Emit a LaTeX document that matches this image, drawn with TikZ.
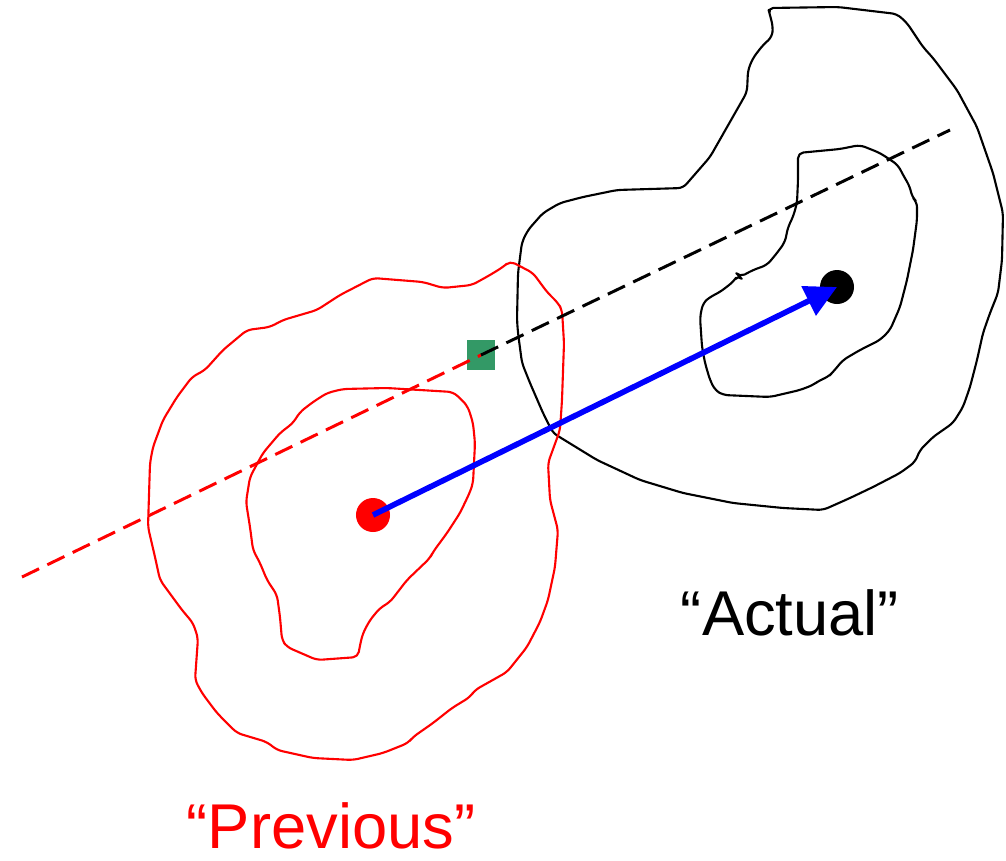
\documentclass[tikz,border=0pt]{standalone}
\usepackage{fontspec}
\setmainfont{Liberation Sans}
\usetikzlibrary{arrows.meta}
\definecolor{markgreen}{RGB}{51,153,102}

\begin{document}
\begin{tikzpicture}[x=0.01cm, y=-0.01cm,
  contour/.style={line width=0.6pt, line join=round, rounded corners=1.5pt},
  dot/.style={circle, inner sep=0pt, minimum size=0.34cm},
  axisline/.style={line width=0.85pt, dash pattern=on 5.4pt off 2.6pt},
  regionlabel/.style={font=\fontsize{18}{22}\selectfont, anchor=base, inner sep=0pt}]

\useasboundingbox (0,0) rectangle (1006,860);

% "Actual" region, outer and inner contour
\draw[contour] (768,8) -- (838,7) -- (897,14) -- (907,23) -- (923,47) -- (933,58)
  -- (957,90) -- (977,127) -- (993,173) -- (1003,213) -- (1002,260) -- (998,293)
  -- (990,313) -- (983,333) -- (977,360) -- (970,387) -- (963,407) -- (953,423)
  -- (943,430) -- (933,437) -- (920,450) -- (915,462) -- (900,473) -- (873,487)
  -- (850,498) -- (823,510) -- (783,508) -- (733,503) -- (683,493) -- (640,480)
  -- (597,460) -- (553,433) -- (543,413) -- (530,383) -- (522,363) -- (518,333)
  -- (517,320) -- (518,273) -- (522,242) -- (528,230) -- (543,213) -- (560,203)
  -- (583,197) -- (617,190) -- (683,188) -- (703,165) -- (710,157) -- (747,92)
  -- (748,70) -- (753,58) -- (763,45) -- (772,37) -- (773,27) -- (770,15) -- cycle;
\draw[contour] (798,153) -- (840,149) -- (860,145) -- (880,153) -- (898,165)
  -- (902,173) -- (910,187) -- (912,197) -- (917,202) -- (917,220) -- (913,250)
  -- (907,280) -- (900,307) -- (890,330) -- (880,340) -- (860,350) -- (843,360)
  -- (833,372) -- (828,377) -- (820,380) -- (813,385) -- (800,390) -- (770,397)
  -- (723,395) -- (715,390) -- (710,380) -- (705,363) -- (702,347) -- (700,317)
  -- (703,303) -- (710,297) -- (720,292) -- (733,282) -- (738,275) -- (740,277)
  -- (753,270) -- (767,265) -- (777,253) -- (785,242) -- (788,227) -- (793,217)
  -- (797,203) -- (798,180) -- cycle;

% "Previous" region, outer and inner contour
\draw[contour, red] (510,261) -- (533,273) -- (547,292) -- (558,303) -- (562,310)
  -- (564,343) -- (562,400) -- (560,430) -- (548,463) -- (550,500) -- (558,530)
  -- (555,567) -- (548,600) -- (540,622) -- (527,647) -- (507,672) -- (475,690)
  -- (470,697) -- (452,708) -- (433,723) -- (413,737) -- (408,743) -- (383,753)
  -- (353,760) -- (313,758) -- (277,750) -- (267,742) -- (237,733) -- (217,713)
  -- (202,693) -- (195,680) -- (198,638) -- (193,623) -- (182,610) -- (160,580)
  -- (155,557) -- (148,527) -- (150,463) -- (153,447) -- (163,420) -- (177,397)
  -- (192,377) -- (205,370) -- (223,350) -- (247,330) -- (270,327) -- (283,320)
  -- (317,310) -- (340,295) -- (373,278) -- (423,282) -- (443,288) -- (472,285)
  -- (490,275) -- (503,267) -- cycle;
\draw[contour, red] (343,389) -- (387,388) -- (453,392) -- (462,400) -- (468,407)
  -- (473,423) -- (475,443) -- (473,483) -- (470,492) -- (460,513) -- (447,533)
  -- (433,552) -- (430,558) -- (407,580) -- (390,602) -- (380,608) -- (370,620)
  -- (363,633) -- (360,645) -- (358,657) -- (317,660) -- (287,647) -- (282,640)
  -- (280,617) -- (277,595) -- (267,580) -- (260,563) -- (253,550) -- (250,527)
  -- (246,502) -- (250,477) -- (263,453) -- (280,433) -- (293,423) -- (300,412)
  -- (313,402) -- (327,393) -- cycle;

\node[fill=markgreen, inner sep=0pt, minimum width=0.27cm, minimum height=0.30cm]
  (sq) at (481,355) {};
\coordinate (dstart) at (22,577);
\coordinate (dend) at (950,130);
\draw[axisline, red] (dstart) -- (sq.center);
\draw[axisline] (sq.center) -- (dend);

\node[dot, fill=red] (prev) at (373,515) {};
\node[dot, fill=black] (act) at (837,287) {};
\draw[-{Triangle[length=9pt, width=9pt]}, blue, line width=1.6pt] (prev.center) -- (act.center);

\node[regionlabel, text=red] (prevlabel) at (331,848) {“Previous”};
\node[regionlabel] (actlabel) at (790,635) {“Actual”};

\end{tikzpicture}
\end{document}
